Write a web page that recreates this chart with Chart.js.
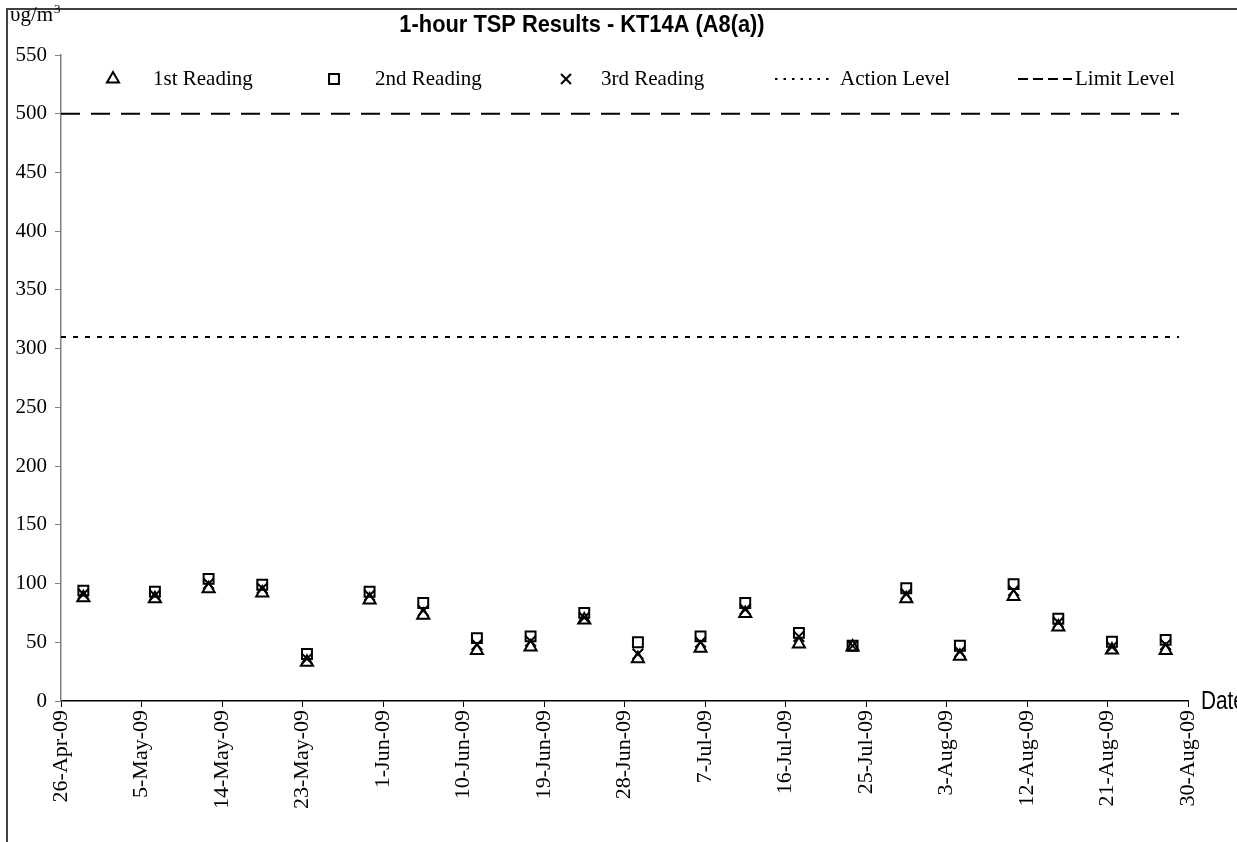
<!DOCTYPE html>
<html>
<head>
<meta charset="utf-8">
<script src="https://cdn.jsdelivr.net/npm/chart.js@4.4.0/dist/chart.umd.min.js"></script>
<style>
  html, body { margin: 0; padding: 0; background: #fff; }
</style>
</head>
<body>
<canvas id="chart" width="1237" height="842"></canvas>
<script>
const chartTitle = "1-hour TSP Results - KT14A (A8(a))";
const unitLabel = "υg/m";
const xAxisTitle = "Date";

// sampling dates and the three readings (ug/m3)
const startDate = "2009-04-26";
const sampleDates = [
  "2009-04-28", "2009-05-06", "2009-05-12", "2009-05-18", "2009-05-23",
  "2009-05-30", "2009-06-05", "2009-06-11", "2009-06-17", "2009-06-23",
  "2009-06-29", "2009-07-06", "2009-07-11", "2009-07-17", "2009-07-23",
  "2009-07-29", "2009-08-04", "2009-08-10", "2009-08-15", "2009-08-21",
  "2009-08-27"
];
const reading1 = [88, 87, 95.5, 92, 33, 86, 73, 43, 46, 69, 36, 45, 74.5, 48.5, 46, 87, 38, 89, 63, 43.5, 43];
const reading2 = [94, 93, 104, 99, 40, 93, 83.5, 53.5, 55, 75, 50, 55, 83.5, 58, 47, 96, 47, 99.5, 70, 50.5, 52];
const reading3 = [91, 90, 100, 96, 36, 90, 77, 48, 51, 71, 40, 50, 78, 55, 47, 91, 42, 94, 67, 46, 48];

const actionLevel = 310;
const limitLevel = 500;
const levelDates = ["2009-04-26", "2009-08-29"];

const tickLabels = [
  "26-Apr-09", "5-May-09", "14-May-09", "23-May-09", "1-Jun-09",
  "10-Jun-09", "19-Jun-09", "28-Jun-09", "7-Jul-09", "16-Jul-09",
  "25-Jul-09", "3-Aug-09", "12-Aug-09", "21-Aug-09", "30-Aug-09"
];
const tickStepDays = 9;

function dayOf(d) {
  return (Date.parse(d) - Date.parse(startDate)) / 86400000;
}
// Excel puts a date in the middle of its day slot
function points(values) {
  return values.map((v, i) => ({ x: dayOf(sampleDates[i]) + 0.5, y: v }));
}
function level(v) {
  return levelDates.map(d => ({ x: dayOf(d), y: v }));
}

const serif = "'Liberation Serif', 'Times New Roman', serif";
const sans = "'Liberation Sans Narrow', 'Arial Narrow', 'Liberation Sans', Arial, sans-serif";

// condensed text, like Arial Narrow
function narrowText(ctx, text, x, y, sx) {
  ctx.save();
  ctx.translate(x, y);
  ctx.scale(sx, 1);
  ctx.fillText(text, 0, 0);
  ctx.restore();
}

// title, unit, legend, axis title and frame
const decor = {
  id: 'decor',
  afterDraw(chart) {
    const ctx = chart.ctx;
    ctx.save();
    ctx.strokeStyle = '#404040';
    ctx.lineWidth = 2;
    ctx.strokeRect(7, 9, 1400, 1000);

    ctx.fillStyle = '#000';
    ctx.font = "bold 24px " + sans;
    ctx.textAlign = 'center';
    ctx.textBaseline = 'middle';
    narrowText(ctx, chartTitle, 582, 25, 0.91);

    ctx.textAlign = 'left';
    ctx.textBaseline = 'alphabetic';
    ctx.font = "21px " + serif;
    ctx.fillText(unitLabel, 10, 21);
    const w = ctx.measureText(unitLabel).width;
    ctx.font = "13px " + serif;
    ctx.fillText("3", 10 + w + 1, 13);

    ctx.font = "26px " + sans;
    ctx.textBaseline = 'middle';
    narrowText(ctx, xAxisTitle, 1201, 702, 0.8);

    // legend
    const ly = 79;
    const items = [
      { ds: 0, mark: 113, text: 153 },
      { ds: 1, mark: 334, text: 375 },
      { ds: 2, mark: 566, text: 601 },
      { ds: 3, line: [775, 832], dash: [2.5, 6], text: 840 },
      { ds: 4, line: [1018, 1072], dash: [10, 5], text: 1075 }
    ];
    ctx.font = "21px " + serif;
    items.forEach(it => {
      const ds = chart.data.datasets[it.ds];
      ctx.strokeStyle = '#000';
      ctx.fillStyle = 'rgba(0,0,0,0)';
      if (it.line) {
        ctx.save();
        ctx.lineWidth = ds.borderWidth;
        ctx.setLineDash(it.dash);
        ctx.beginPath();
        ctx.moveTo(it.line[0], ly);
        ctx.lineTo(it.line[1], ly);
        ctx.stroke();
        ctx.restore();
      } else {
        ctx.save();
        ctx.lineWidth = 2;
        Chart.helpers.drawPoint(ctx, {
          pointStyle: ds.pointStyle, radius: 7, rotation: 0, borderWidth: 2
        }, it.mark, ly);
        ctx.restore();
      }
      ctx.fillStyle = '#000';
      ctx.fillText(ds.label, it.text, ly);
    });
    ctx.restore();
  }
};

const markerBase = {
  borderColor: '#000',
  backgroundColor: 'rgba(0,0,0,0)',
  pointBorderWidth: 2,
  pointRadius: 7,
  pointHoverRadius: 7
};

new Chart(document.getElementById('chart'), {
  type: 'scatter',
  data: {
    datasets: [
      Object.assign({ label: '1st Reading', data: points(reading1), pointStyle: 'triangle' }, markerBase),
      Object.assign({ label: '2nd Reading', data: points(reading2), pointStyle: 'rect' }, markerBase),
      Object.assign({ label: '3rd Reading', data: points(reading3), pointStyle: 'crossRot' }, markerBase, { pointRadius: 7.5 }),
      { type: 'line', label: 'Action Level', data: level(actionLevel), borderColor: '#000',
        borderWidth: 2, borderDash: [5, 7], pointRadius: 0, fill: false },
      { type: 'line', label: 'Limit Level', data: level(limitLevel), borderColor: '#000',
        borderWidth: 2, borderDash: [19, 11], pointRadius: 0, fill: false }
    ]
  },
  options: {
    responsive: false,
    animation: false,
    layout: { padding: { top: 55, right: 49, left: 0, bottom: 0 } },
    plugins: {
      legend: { display: false },
      title: { display: false },
      tooltip: { enabled: false }
    },
    scales: {
      x: {
        type: 'linear',
        min: 0,
        max: (tickLabels.length - 1) * tickStepDays,
        afterBuildTicks: s => { s.ticks = tickLabels.map((t, i) => ({ value: i * tickStepDays })); },
        afterFit: s => { s.height = 141; },
        ticks: {
          autoSkip: false, maxRotation: 90, minRotation: 90, padding: 3,
          color: '#000', font: { family: serif, size: 22 },
          callback: (v) => tickLabels[Math.round(v / tickStepDays)]
        },
        grid: { drawOnChartArea: false, tickLength: 6, color: '#000' },
        border: { color: '#000', width: 1.5 }
      },
      y: {
        min: 0,
        max: 550,
        afterFit: s => { s.width = 61; },
        ticks: { stepSize: 50, padding: 8, color: '#000', font: { family: serif, size: 21 } },
        grid: { drawOnChartArea: false, tickLength: 6, color: '#808080' },
        border: { color: '#808080', width: 1.5 }
      }
    }
  },
  plugins: [decor]
});
</script>
</body>
</html>
